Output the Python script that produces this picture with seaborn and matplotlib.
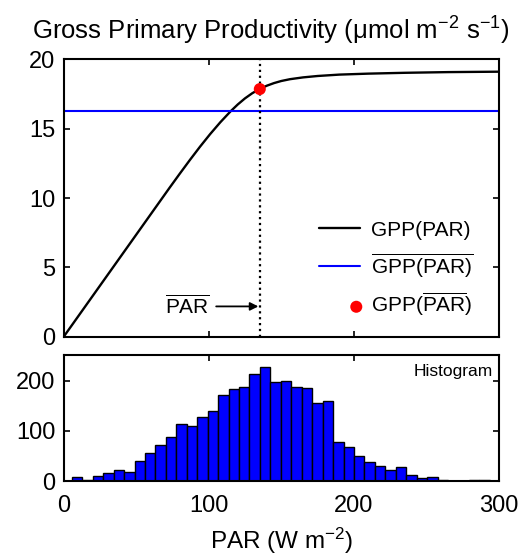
import numpy as np
import pandas as pd
import seaborn as sns
import matplotlib.pyplot as plt
from matplotlib.legend_handler import HandlerPathCollection

# GPP light-response curve
par_curve = [0, 60, 73, 80, 87, 94, 101, 108, 115, 120, 125, 130, 135, 140, 145,
             150, 156, 165, 175, 190, 210, 235, 265, 300]
gpp_curve = [0, 8.82, 10.73, 11.74, 12.73, 13.69, 14.6, 15.45, 16.23, 16.73, 17.17,
             17.54, 17.84, 18.08, 18.27, 18.42, 18.55, 18.68, 18.78, 18.88, 18.95,
             19.01, 19.06, 19.09]

par_mean = 135.2
gpp_of_mean_par = 17.84
mean_gpp = 16.28

# histogram of PAR (bin counts)
bin_start = 5.7
bin_width = 7.2
counts = [9, 3, 11, 17, 22, 18, 40, 57, 71, 88, 114, 110, 128, 139, 172, 184, 187,
          213, 226, 197, 199, 188, 186, 155, 159, 77, 68, 50, 39, 30, 23, 28, 13,
          7, 9, 3, 1, 1, 3, 2, 1]

edges = bin_start + bin_width * np.arange(len(counts) + 1)
centers = (edges[:-1] + edges[1:]) / 2
hist_df = pd.DataFrame({'par': centers, 'n': counts})
curve_df = pd.DataFrame({'par': par_curve, 'gpp': gpp_curve})


# put the legend dot toward the right end of the handle, like the original
class RightDot(HandlerPathCollection):
    def get_xdata(self, legend, xdescent, ydescent, width, height, fontsize):
        x = -xdescent + 0.9 * width
        return [x], [x]


sns.set_style('ticks')
plt.rcParams['font.family'] = ['Liberation Sans', 'DejaVu Sans']
plt.rcParams['mathtext.fontset'] = 'custom'
plt.rcParams['mathtext.rm'] = 'Liberation Sans'
plt.rcParams['mathtext.it'] = 'Liberation Sans'
plt.rcParams['font.size'] = 17
plt.rcParams['text.color'] = 'black'
plt.rcParams['axes.labelcolor'] = 'black'
plt.rcParams['xtick.color'] = 'black'
plt.rcParams['ytick.color'] = 'black'
plt.rcParams['axes.edgecolor'] = 'black'
plt.rcParams['axes.linewidth'] = 1.5
plt.rcParams['xtick.direction'] = 'in'
plt.rcParams['ytick.direction'] = 'in'
plt.rcParams['xtick.major.size'] = 4
plt.rcParams['ytick.major.size'] = 4

fig = plt.figure(figsize=(5.21, 5.57), dpi=100)
ax1 = fig.add_axes([0.1219, 0.395, 0.836, 0.499])
ax2 = fig.add_axes([0.1219, 0.136, 0.836, 0.226])

# top panel
sns.lineplot(data=curve_df, x='par', y='gpp', color='black', linewidth=1.7,
             ax=ax1, label='GPP(PAR)')
ax1.axhline(mean_gpp, color='#0000FF', linewidth=1.5,
            label=r'$\overline{\mathrm{GPP(PAR)}}$')
sns.scatterplot(x=[par_mean], y=[gpp_of_mean_par], color='#FF0000', s=75,
                edgecolor='none', ax=ax1, zorder=5,
                label=r'GPP($\overline{\mathrm{PAR}}$)')
ax1.axvline(par_mean, color='black', linestyle=':', linewidth=1.6)
ax1.annotate(r'$\overline{\mathrm{PAR}}$', xy=(par_mean - 1, 2.2), xytext=(85.5, 2.2),
             ha='center', va='center', fontsize=15,
             arrowprops=dict(arrowstyle='-|>', color='black', lw=1.3,
                             shrinkA=2, shrinkB=0, mutation_scale=12))
ax1.set_xlim(0, 300)
ax1.set_ylim(0, 20)
ax1.set_xticks([0, 100, 200, 300])
ax1.set_xticklabels([])
ax1.set_yticks([0, 5, 10, 15, 20])
ax1.set_xlabel('')
ax1.set_ylabel('')
ax1.tick_params(top=True, right=True, labelsize=17, width=1.2)
ax1.tick_params(axis='y', pad=6)
ax1.set_title(r'Gross Primary Productivity ($\mathrm{\mu}$mol m$^{-2}$ s$^{-1}$)',
              fontsize=18.5, pad=14, x=0.475)
handles, labels = ax1.get_legend_handles_labels()
ax1.legend(handles, labels, loc='lower right', bbox_to_anchor=(0.985, 0.0),
           frameon=False, fontsize=15, handlelength=2.0, labelspacing=0.55,
           handletextpad=0.5, handler_map={handles[2]: RightDot()})

# bottom panel
sns.histplot(data=hist_df, x='par', weights='n', bins=list(edges), color='#0000FF',
             edgecolor='black', linewidth=1.0, alpha=1, ax=ax2)
ax2.text(0.985, 0.93, 'Histogram', transform=ax2.transAxes, ha='right', va='top',
         fontsize=12.5)
ax2.set_xlim(0, 300)
ax2.set_ylim(0, 250)
ax2.set_xticks([0, 100, 200, 300])
ax2.set_yticks([0, 100, 200])
ax2.set_ylabel('')
ax2.set_xlabel(r'PAR (W m$^{-2}$)', fontsize=17.5, labelpad=6)
ax2.tick_params(top=True, right=True, labelsize=17, width=1.2)
ax2.tick_params(axis='x', pad=10)
ax2.tick_params(axis='y', pad=6)

fig.savefig('out.png', dpi=100)
